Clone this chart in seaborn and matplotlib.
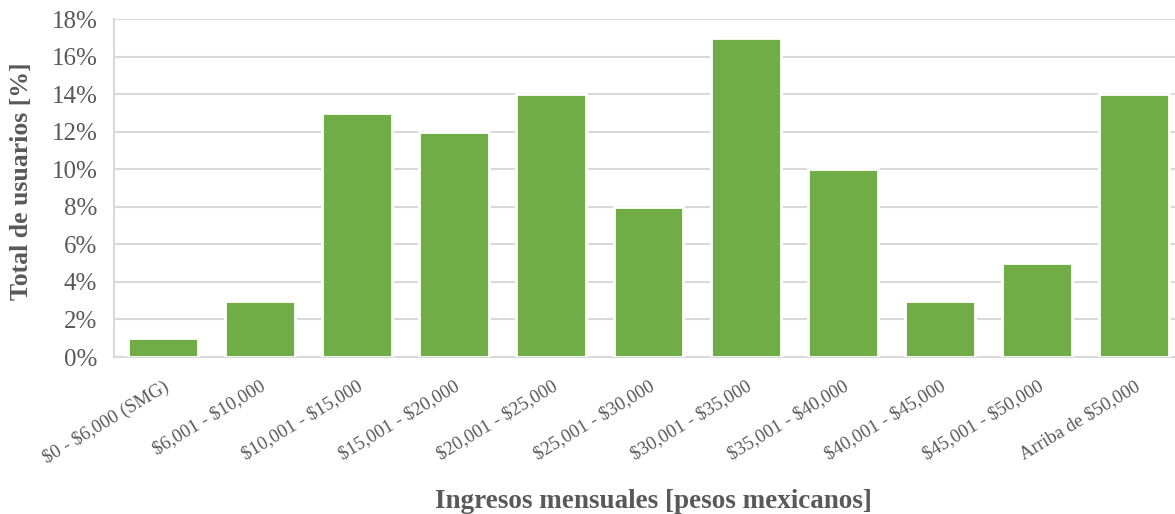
import pandas as pd
import matplotlib
matplotlib.use("Agg")
import matplotlib.pyplot as plt
import seaborn as sns
from matplotlib.ticker import FuncFormatter

# Data
categories = ["$0 - $6,000 (SMG)", "$6,001 - $10,000", "$10,001 - $15,000",
              "$15,001 - $20,000", "$20,001 - $25,000", "$25,001 - $30,000",
              "$30,001 - $35,000", "$35,001 - $40,000", "$40,001 - $45,000",
              "$45,001 - $50,000", "Arriba de $50,000"]
percentages = [1, 3, 13, 12, 14, 8, 17, 10, 3, 5, 14]

df = pd.DataFrame({"ingreso": categories, "pct": percentages})

sns.set_style("white")
plt.rcParams['font.family'] = ['Liberation Serif', 'DejaVu Serif']

text_color = "#595959"
grid_color = "#d9d9d9"

fig = plt.figure(figsize=(11.75, 5.14), dpi=100)
ax = fig.add_axes([114 / 1175, 1 - 357 / 514, 1069 / 1175, 338 / 514])

sns.barplot(data=df, x="ingreso", y="pct", color="#70ad47", saturation=1,
            width=0.72, edgecolor="white", linewidth=2, ax=ax, zorder=3)

ax.set_ylim(0, 18)
ax.set_xlim(-0.5, len(categories) - 0.5)
ax.set_yticks(range(0, 19, 2))
ax.yaxis.set_major_formatter(FuncFormatter(lambda v, p: f"{v:.0f}%"))
ax.grid(axis="y", color=grid_color, linewidth=1.5, zorder=0)
ax.set_axisbelow(True)

for s in ["top", "right"]:
    ax.spines[s].set_visible(False)
for s in ["left", "bottom"]:
    ax.spines[s].set_color(grid_color)
    ax.spines[s].set_linewidth(1.5)

ax.tick_params(axis="y", labelsize=18, colors=text_color, length=0, pad=12)
ax.tick_params(axis="x", labelsize=13.5, colors=text_color, length=0, pad=15)
for t in ax.get_xticklabels():
    t.set_parse_math(False)
plt.setp(ax.get_xticklabels(), rotation=31, ha="right", rotation_mode="anchor")

ax.set_xlabel("Ingresos mensuales [pesos mexicanos]", fontsize=19.5,
              fontweight="bold", color=text_color)
ax.set_ylabel("Total de usuarios [%]", fontsize=18.5, fontweight="bold",
              color=text_color)
ax.xaxis.label.set_va("center")
ax.yaxis.label.set_va("center")
ax.xaxis.set_label_coords((653 - 114) / 1069, -(501 - 357) / 338)
ax.yaxis.set_label_coords(-(114 - 22) / 1069, (357 - 181) / 338)

fig.savefig("out.png", dpi=100)
plt.close()
